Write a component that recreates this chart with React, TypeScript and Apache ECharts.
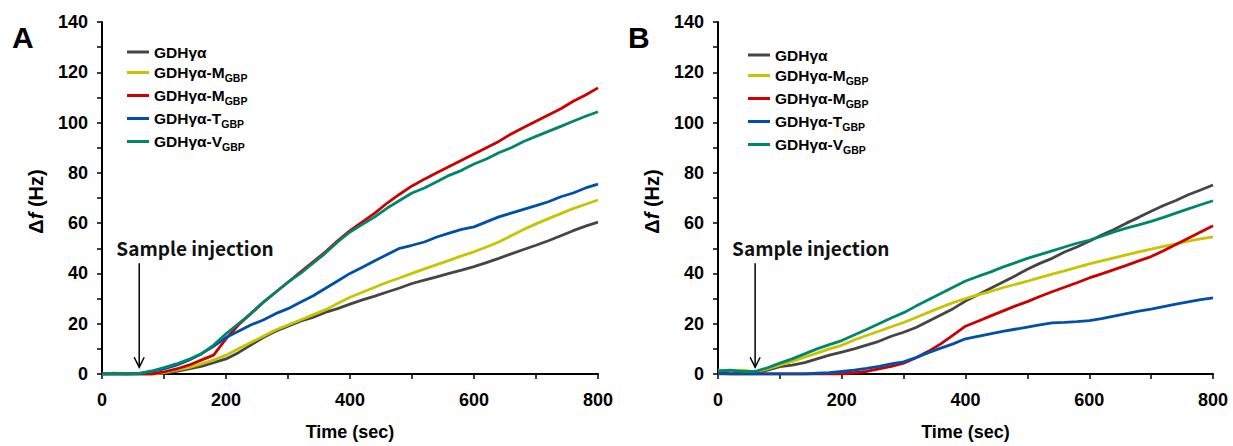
import React, { useEffect, useRef } from "react";
import * as echarts from "echarts";

const times = [0,20,40,60,80,100,120,140,160,180,200,220,240,260,280,300,320,340,360,380,400,420,440,460,480,500,520,540,560,580,600,620,640,660,680,700,720,740,760,780,800];

// Panel A
const aGray = [0,0,0,0,0,0.5,1,2,3,4.5,6,8.5,11.5,14.5,17,19,21,22.5,24.5,26,27.8,29.5,31,32.6,34.2,36,37.3,38.6,40,41.3,42.7,44.3,46,47.8,49.5,51.2,53,55,57,58.8,60.4];
const aYellow = [0,0,0,0,0,0.5,1.5,2.5,4,5.5,7.5,10,12.5,15,17.5,19.5,21.5,23.5,25.5,28,30.5,32.5,34.5,36.5,38.2,40,41.8,43.5,45.2,47,48.6,50.5,52.5,55,57.5,59.7,61.8,63.8,65.8,67.5,69.2];
const aRed = [0,0,0,0,0,0.8,2,3.5,5.5,7.5,14,19.5,24,28.5,32.5,36.5,40.5,44.5,48.5,53,57,60.5,64,68,71.5,74.8,77.5,80,82.5,85,87.5,90,92.5,95.5,98,100.5,103,105.5,108.5,111,113.8];
const aBlue = [0,0,0,0.2,1,2,3.5,5.5,8,11,14.5,17,19.5,21.5,24,26,28.5,31,34,37,40,42.5,45,47.5,50,51.2,52.5,54.5,56,57.5,58.5,60.5,62.5,64,65.5,67,68.5,70.5,72,74,75.5];
const aGreen = [0,0.3,0,0.2,1.2,2.5,4,5.8,8,11.5,16,20,24,28.5,32.5,36.5,40,44,48,52.5,56.5,59.5,62.5,66,69,72,74,76.5,79,81,83.5,85.5,88,90,92.5,94.5,96.5,98.5,100.5,102.5,104.3];

// Panel B
const bGray = [1,0.8,0.5,0.3,1.5,2.9,3.5,4.5,6,7.5,8.7,10,11.5,13,15,16.6,18.5,21,23.5,26,29,31.5,34,36.5,39,41.7,44,46,48.5,50.5,52.8,55.3,57.5,60,62.3,64.7,67,69,71.3,73.2,75.2];
const bYellow = [1.5,1,1.5,0.8,2,3.5,5,6.7,8.3,10,11.4,13.5,15.3,17,18.8,20.5,22.5,24.5,26.5,28.4,30,31.5,32.8,34.3,35.6,36.9,38.3,39.7,41,42.4,43.8,45,46.2,47.4,48.6,49.7,50.8,51.8,52.8,53.7,54.5];
const bRed = [0.5,0,0,0,0,0,0,0,0,0,0,0.5,1,2,3,4.3,6.5,9,12,15.5,19,21,23,25,27,28.8,30.8,32.7,34.5,36.3,38.2,39.8,41.5,43.2,45,46.7,49,51.5,54,56.5,59];
const bBlue = [0,0,0,0,0,0,0,0,0.3,0.5,1,1.5,2.2,3,4,4.8,6.5,8.5,10.3,12,14,15,16,17,17.8,18.6,19.5,20.3,20.5,20.8,21.2,22,23,24,25,25.8,26.8,27.8,28.7,29.6,30.3];
const bGreen = [1.2,1.5,1,1,2.5,4.3,6,8,10,11.7,13.3,15.5,17.7,20,22.3,24.4,27,29.5,32,34.5,37,38.8,40.5,42.5,44.2,46,47.5,49,50.5,52,53.2,54.8,56.5,58,59.3,60.7,62.3,64,65.7,67.3,68.9];

const legendMain = ["GDHγα", "GDHγα-M", "GDHγα-M", "GDHγα-T", "GDHγα-V"];
const legendSub = ["", "GBP", "GBP", "GBP", "GBP"];
const colors = ["#454545", "#c8c400", "#cc0000", "#0050a8", "#00876a"];

const panelA = [aGray, aYellow, aRed, aBlue, aGreen];
const panelB = [bGray, bYellow, bRed, bBlue, bGreen];

const xTicks = { min: 0, max: 800, interval: 200 };
const yTicks = { min: 0, max: 140, interval: 20 };

const injectionTime = 60;
const arrowTop = 44;
const arrowBottom = 2.7;
const labelPos = [150, 50.5];

const FONT = "Liberation Sans, Arial, sans-serif";

export default function App() {
  const ref = useRef<HTMLDivElement>(null);
  useEffect(() => {
    if (!ref.current) return;
    const chart = echarts.init(ref.current, undefined, { renderer: "svg" });

    const mkX = (gi: number) => ({
      type: "value",
      gridIndex: gi,
      min: xTicks.min,
      max: xTicks.max,
      interval: xTicks.interval,
      name: "Time (sec)",
      nameLocation: "middle",
      nameGap: 49,
      nameTextStyle: { fontFamily: FONT, fontWeight: "bold", fontSize: 18, color: "#000" },
      axisLine: { show: true, onZero: false, lineStyle: { color: "#000", width: 2 } },
      axisTick: { show: true, length: 5, lineStyle: { color: "#000", width: 1.5 } },
      minorTick: { show: true, splitNumber: 2, length: 5, lineStyle: { color: "#000", width: 1.5 } },
      splitLine: { show: false },
      minorSplitLine: { show: false },
      axisLabel: { fontFamily: FONT, fontWeight: "bold", fontSize: 18, color: "#000", margin: 17 },
    });
    const mkY = (gi: number) => ({
      type: "value",
      gridIndex: gi,
      min: yTicks.min,
      max: yTicks.max,
      interval: yTicks.interval,
      name: "{n|Δ}{i|f}{n| (Hz)}",
      nameLocation: "middle",
      nameGap: 56,
      nameTextStyle: {
        color: "#000",
        padding: [0, 7, 0, 0],
        rich: {
          n: { fontFamily: FONT, fontWeight: "bold", fontSize: 20, color: "#000" },
          i: { fontFamily: FONT, fontWeight: "bold", fontStyle: "italic", fontSize: 20, color: "#000" },
        },
      },
      axisLine: { show: true, onZero: false, lineStyle: { color: "#000", width: 2 } },
      axisTick: { show: true, length: 5, lineStyle: { color: "#000", width: 1.5 } },
      minorTick: { show: true, splitNumber: 2, length: 5, lineStyle: { color: "#000", width: 1.5 } },
      splitLine: { show: false },
      minorSplitLine: { show: false },
      axisLabel: { fontFamily: FONT, fontWeight: "bold", fontSize: 18, color: "#000", margin: 14 },
    });

    const series: any[] = [];
    const namesA: string[] = [];
    const namesB: string[] = [];
    [panelA, panelB].forEach((panel, gi) => {
      panel.forEach((vals, k) => {
        const name = (gi === 0 ? "A" : "B") + k;
        (gi === 0 ? namesA : namesB).push(name);
        series.push({
          type: "line",
          name,
          xAxisIndex: gi,
          yAxisIndex: gi,
          showSymbol: false,
          symbol: "none",
          color: colors[k],
          lineStyle: { color: colors[k], width: 2.8 },
          data: times.map((t, j) => [t, vals[j]]),
          z: 2 + k,
        });
      });
    });

    const fmt = (name: string) => {
      const k = Number(name.slice(1));
      const main = legendMain[k];
      return legendSub[k] ? `{b|${main}}{s|${legendSub[k]}}` : `{b|${main}}`;
    };
    const legendText = {
      rich: {
        b: { fontFamily: FONT, fontWeight: "bold", fontSize: 15.5, color: "#000", lineHeight: 20 },
        s: { fontFamily: FONT, fontWeight: "bold", fontSize: 10.5, color: "#000", padding: [10, 0, 0, 0] },
      },
    };
    const mkLegend = (data: string[], left: number, top: number) => ({
      data,
      orient: "vertical",
      left,
      top,
      icon: "rect",
      itemWidth: 22,
      itemHeight: 3,
      itemGap: 4.5,
      padding: 0,
      selectedMode: false,
      formatter: fmt,
      textStyle: legendText,
    });

    const option: any = {
      animation: false,
      backgroundColor: "#fff",
      grid: [
        { left: 102, top: 22, width: 496, height: 357 },
        { left: 718, top: 22, width: 495, height: 357 },
      ],
      xAxis: [mkX(0), mkX(1)],
      yAxis: [mkY(0), mkY(1)],
      legend: [mkLegend(namesA, 127, 44), mkLegend(namesB, 748, 47)],
      series,
    };
    chart.setOption(option);

    const graphics: any[] = [
      { type: "text", left: 12, top: 22, style: { text: "A", fontFamily: FONT, fontWeight: "bold", fontSize: 30, fill: "#000" } },
      { type: "text", left: 628, top: 22, style: { text: "B", fontFamily: FONT, fontWeight: "bold", fontSize: 30, fill: "#000" } },
    ];
    [0, 1].forEach((gi) => {
      const top = chart.convertToPixel({ gridIndex: gi } as any, [injectionTime, arrowTop]) as number[];
      const bot = chart.convertToPixel({ gridIndex: gi } as any, [injectionTime, arrowBottom]) as number[];
      const lp = chart.convertToPixel({ gridIndex: gi } as any, labelPos) as number[];
      graphics.push(
        { type: "line", shape: { x1: top[0], y1: top[1], x2: bot[0], y2: bot[1] }, style: { stroke: "#000", lineWidth: 1.5 }, z: 10 },
        { type: "polyline", shape: { points: [[bot[0] - 5, bot[1] - 10], [bot[0], bot[1]], [bot[0] + 5, bot[1] - 10]] }, style: { stroke: "#000", lineWidth: 1.5, fill: "none" }, z: 10 },
        { type: "text", x: lp[0], y: lp[1], style: { text: "Sample injection", fontFamily: "Noto Sans CJK KR, Noto Sans, sans-serif", fontWeight: "bold", fontSize: 19, fill: "#111", align: "center", verticalAlign: "middle" }, z: 10 }
      );
    });
    chart.setOption({ graphic: graphics });

    return () => chart.dispose();
  }, []);
  return <div ref={ref} style={{ position: "fixed", left: 0, top: 0, width: 1233, height: 446 }} />;
}
